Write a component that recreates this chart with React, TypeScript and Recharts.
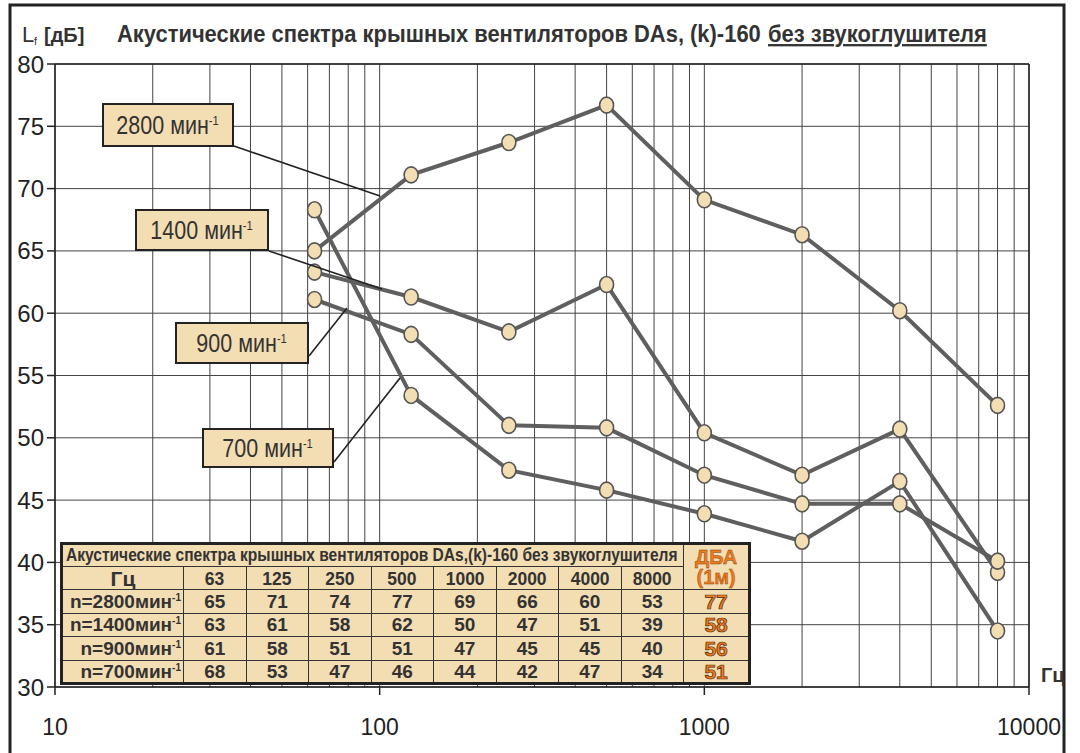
import { useLayoutEffect, useRef, useState } from "react";
import { LineChart, Line, XAxis, YAxis, CartesianGrid, ReferenceLine } from "recharts";

// частоты октавных полос, Гц
const freqs = [63, 125, 250, 500, 1000, 2000, 4000, 8000];

// уровни по графику, дБ
const n2800 = [65.0, 71.1, 73.7, 76.7, 69.1, 66.3, 60.2, 52.6];
const n1400 = [63.3, 61.3, 58.5, 62.3, 50.4, 47.0, 50.7, 39.2];
const n900 = [61.1, 58.3, 51.0, 50.8, 47.0, 44.7, 44.7, 40.1];
const n700 = [68.3, 53.4, 47.4, 45.8, 43.9, 41.7, 46.5, 34.5];

const xGridTicks = [
  10, 20, 30, 40, 50, 60, 70, 80, 90,
  100, 200, 300, 400, 500, 600, 700, 800, 900,
  1000, 2000, 3000, 4000, 5000, 6000, 7000, 8000, 9000, 10000,
];
const xLabelTicks = [10, 100, 1000, 10000];
const yTicks = [30, 35, 40, 45, 50, 55, 60, 65, 70, 75, 80];

// таблица
const tableTitle = "Акустические спектра крышных вентиляторов DAs,(k)-160 без звукоглушителя";
const tableHead = ["63", "125", "250", "500", "1000", "2000", "4000", "8000"];
const rowLabels = ["n=2800мин", "n=1400мин", "n=900мин", "n=700мин"];
const row2800 = [65, 71, 74, 77, 69, 66, 60, 53];
const row1400 = [63, 61, 58, 62, 50, 47, 51, 39];
const row900 = [61, 58, 51, 51, 47, 45, 45, 40];
const row700 = [68, 53, 47, 46, 44, 42, 47, 34];
const dba = [77, 58, 56, 51];

const seriesNames = ["2800 мин", "1400 мин", "900 мин", "700 мин"];

const data = freqs.map((f, i) => ({
  f,
  n2800: n2800[i],
  n1400: n1400[i],
  n900: n900[i],
  n700: n700[i],
}));

const tableRows = [row2800, row1400, row900, row700];

const FONT = "'Liberation Sans', Arial, sans-serif";
const BEIGE = "#F3DDB2";
const LINE = "#5f5f5f";

function Dot(props: any) {
  const { cx, cy } = props;
  if (cx == null || cy == null) return null;
  return (
    <ellipse
      key={props.key}
      cx={cx}
      cy={cy}
      rx={7}
      ry={8}
      fill={BEIGE}
      stroke="#555"
      strokeWidth={1.6}
    />
  );
}

function XTick(props: any) {
  const { x, y, payload } = props;
  if (!xLabelTicks.includes(payload.value)) return <g />;
  return (
    <g>
      <line x1={x} y1={y} x2={x} y2={y + 8} stroke="#222" strokeWidth={1.5} />
      <text x={x} y={y + 48} textAnchor="middle" fontSize={23} fill="#222" fontFamily={FONT}>
        {payload.value}
      </text>
    </g>
  );
}

// svg-текст, сжатый по горизонтали до нужной ширины
function FitText({ x, y, width, children, ...rest }: any) {
  const ref = useRef<SVGTextElement>(null);
  const [sx, setSx] = useState(1);
  useLayoutEffect(() => {
    if (ref.current) {
      const w = ref.current.getComputedTextLength();
      if (w > 0) setSx(width / w);
    }
  }, [width]);
  return (
    <text ref={ref} x={0} y={0} transform={`translate(${x},${y}) scale(${sx},1)`} {...rest}>
      {children}
    </text>
  );
}

// подписи кривых: позиция рамки и конец выноски
const boxes = [
  { left: 102, top: 103, width: 132, height: 44, lx1: 234, ly1: 146, lx2: 380, ly2: 196 },
  { left: 135, top: 209, width: 134, height: 42, lx1: 269, ly1: 251, lx2: 382, ly2: 289 },
  { left: 175, top: 322, width: 134, height: 42, lx1: 309, ly1: 356, lx2: 347, ly2: 308 },
  { left: 202, top: 428, width: 132, height: 40, lx1: 334, ly1: 462, lx2: 400, ly2: 378 },
];

const cell: React.CSSProperties = {
  border: "1.5px solid #333",
  padding: 0,
  textAlign: "center",
  verticalAlign: "middle",
  lineHeight: 1,
  overflow: "hidden",
  whiteSpace: "nowrap",
};

const orange: React.CSSProperties = {
  color: "#F07A1C",
  WebkitTextStroke: "0.7px #4a2a10",
};

const narrow = (s: number): React.CSSProperties => ({
  display: "inline-block",
  transform: `scaleX(${s})`,
  transformOrigin: "center",
});

export default function App() {
  return (
    <div
      style={{
        position: "absolute",
        left: 0,
        top: 0,
        width: 1080,
        height: 753,
        background: "#fff",
        overflow: "hidden",
      }}
    >
      <LineChart
        width={1080}
        height={753}
        data={data}
        margin={{ top: 64, right: 51, bottom: 6, left: 10 }}
      >
        <CartesianGrid stroke="#444" strokeWidth={1} />
        <XAxis
          dataKey="f"
          type="number"
          scale="log"
          domain={[10, 10000]}
          allowDataOverflow
          ticks={xGridTicks}
          interval={0}
          height={60}
          tickLine={false}
          tickSize={0}
          tickMargin={0}
          axisLine={{ stroke: "#222", strokeWidth: 1.5 }}
          tick={<XTick />}
        />
        <YAxis
          type="number"
          domain={[30, 80]}
          ticks={yTicks}
          interval={0}
          width={45}
          tickSize={8}
          tickMargin={3}
          tickLine={{ stroke: "#222", strokeWidth: 1.5 }}
          axisLine={{ stroke: "#222", strokeWidth: 1.5 }}
          tick={{ fontSize: 24, fill: "#222", fontFamily: FONT }}
        />
        <ReferenceLine y={80} stroke="#222" strokeWidth={1.5} />
        <ReferenceLine x={10000} stroke="#222" strokeWidth={1.5} />
        <Line dataKey="n2800" stroke={LINE} strokeWidth={4} dot={<Dot />} isAnimationActive={false} />
        <Line dataKey="n1400" stroke={LINE} strokeWidth={4} dot={<Dot />} isAnimationActive={false} />
        <Line dataKey="n900" stroke={LINE} strokeWidth={4} dot={<Dot />} isAnimationActive={false} />
        <Line dataKey="n700" stroke={LINE} strokeWidth={4} dot={<Dot />} isAnimationActive={false} />
      </LineChart>

      <svg
        width={1080}
        height={753}
        style={{ position: "absolute", left: 0, top: 0, pointerEvents: "none" }}
      >
        <rect x={10} y={5} width={1054} height={770} fill="none" stroke="#222" strokeWidth={3} />
        <text x={22} y={42} fontSize={22} fill="#333" fontFamily={FONT} fontWeight={300}>
          L
        </text>
        <text x={34} y={45} fontSize={11} fill="#333" fontFamily={FONT}>
          f
        </text>
        <text x={44} y={42} fontSize={20} fill="#333" fontFamily={FONT} fontWeight={700}>
          [дБ]
        </text>
        <FitText x={117} y={42} width={644} fontSize={23} fill="#333" fontWeight={700} fontFamily={FONT}>
          Акустические спектра крышных вентиляторов DAs, (k)-160
        </FitText>
        <FitText
          x={768}
          y={42}
          width={219}
          fontSize={23}
          fill="#333"
          fontWeight={700}
          fontFamily={FONT}
          textDecoration="underline"
        >
          без звукоглушителя
        </FitText>
        <text x={1041} y={682} fontSize={20} fill="#333" fontWeight={700} fontFamily={FONT}>
          Гц
        </text>
        {boxes.map((b, i) => (
          <line key={i} x1={b.lx1} y1={b.ly1} x2={b.lx2} y2={b.ly2} stroke="#222" strokeWidth={1.6} />
        ))}
      </svg>

      {boxes.map((b, i) => (
        <div
          key={i}
          style={{
            position: "absolute",
            left: b.left,
            top: b.top,
            width: b.width,
            height: b.height,
            boxSizing: "border-box",
            border: "2px solid #222",
            background: BEIGE,
            display: "flex",
            alignItems: "center",
            justifyContent: "center",
            fontFamily: FONT,
            fontSize: 25,
            color: "#333",
            whiteSpace: "nowrap",
          }}
        >
          <span style={narrow(0.86)}>
            {seriesNames[i]}
            <sup style={{ fontSize: 13 }}>-1</sup>
          </span>
        </div>
      ))}

      <table
        style={{
          position: "absolute",
          left: 60,
          top: 542,
          width: 688,
          height: 141,
          borderCollapse: "collapse",
          tableLayout: "fixed",
          background: BEIGE,
          border: "3px solid #222",
          fontFamily: FONT,
          fontWeight: 700,
          color: "#333",
          fontSize: 19,
        }}
      >
        <colgroup>
          <col style={{ width: 122 }} />
          {tableHead.map((h) => (
            <col key={h} style={{ width: 62.5 }} />
          ))}
          <col style={{ width: 66 }} />
        </colgroup>
        <tbody>
          <tr style={{ height: 23 }}>
            <td colSpan={9} style={cell}>
              <svg width={616} height={21} style={{ display: "block", margin: "0 auto" }}>
                <FitText x={1} y={16} width={612} fontSize={18} fontWeight={700} fill="#333" fontFamily={FONT}>
                  {tableTitle}
                </FitText>
              </svg>
            </td>
            <td rowSpan={2} style={{ ...cell, ...orange, fontSize: 20, WebkitTextStroke: "0.4px #7a4010" }}>
              ДБА
              <br />
              (1м)
            </td>
          </tr>
          <tr style={{ height: 23 }}>
            <td style={{ ...cell, fontSize: 21 }}>Гц</td>
            {tableHead.map((h) => (
              <td key={h} style={cell}>
                <span style={narrow(0.92)}>{h}</span>
              </td>
            ))}
          </tr>
          {tableRows.map((row, r) => (
            <tr key={r} style={{ height: 23.5 }}>
              <td style={{ ...cell, textAlign: "right", paddingRight: 2 }}>
                {rowLabels[r]}
                <sup style={{ fontSize: 10 }}>-1</sup>
              </td>
              {row.map((v, c) => (
                <td key={c} style={cell}>
                  {v}
                </td>
              ))}
              <td style={{ ...cell, ...orange, fontSize: 21 }}>{dba[r]}</td>
            </tr>
          ))}
        </tbody>
      </table>
    </div>
  );
}
